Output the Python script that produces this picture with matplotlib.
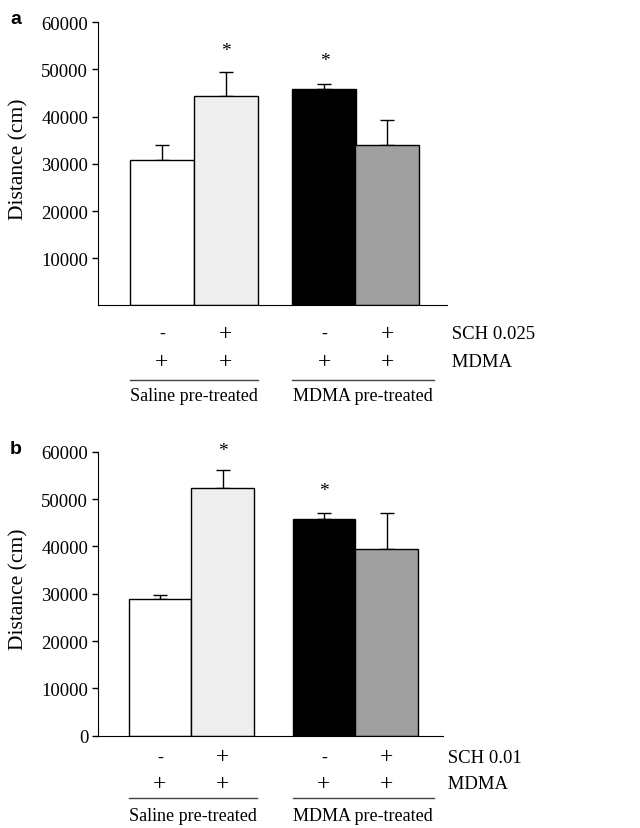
import matplotlib
matplotlib.use("Agg")
import matplotlib.pyplot as plt

# data (cm)
sch_a = ["-", "+", "-", "+"]
sch_b = ["-", "+", "-", "+"]
mdma_row = ["+", "+", "+", "+"]
groups = ["Saline pre-treated", "MDMA pre-treated"]

dist_a = [30800, 44400, 45900, 34000]
err_a = [3200, 5000, 1100, 5400]
star_a = [None, 54000, 52000, None]

dist_b = [28800, 52400, 45700, 39500]
err_b = [900, 3800, 1400, 7600]
star_b = [None, 60200, 51800, None]

bar_colors = ["white", "#eeeeee", "black", "#a0a0a0"]

plt.rcParams["font.family"] = ["Liberation Serif", "DejaVu Serif"]
plt.rcParams["font.size"] = 13


def sign_size(s):
    return 17 if s == "+" else 13


def draw_panel(fig, rect, vals, errs, stars, sch_signs, sch_label, letter,
               xpos, xlim, yticks, rows_y, line_segs):
    ax = fig.add_axes(rect)
    ax.bar(xpos, vals, width=1.0, color=bar_colors, edgecolor="black",
           linewidth=1.0, zorder=2)
    ax.errorbar(xpos, vals, yerr=[[0] * len(errs), errs], fmt="none",
                ecolor="black", elinewidth=1.0, capsize=5, capthick=1.0, zorder=1)
    for x, s in zip(xpos, stars):
        if s is not None:
            ax.text(x, s, "*", ha="center", va="center", fontsize=14)

    ax.set_xlim(*xlim)
    ax.set_ylim(0, 60000)
    ax.set_yticks(yticks)
    ax.set_xticks([])
    ax.spines["top"].set_visible(False)
    ax.spines["right"].set_visible(False)
    ax.tick_params(axis="y", direction="out", length=4, width=1, pad=3,
                   labelsize=13.5)
    ax.set_ylabel("Distance (cm)", fontsize=15.5)
    ax.yaxis.set_label_coords(-0.2, 0.52)

    tr = ax.get_xaxis_transform()
    for x, s1, s2 in zip(xpos, sch_signs, mdma_row):
        ax.text(x, rows_y[0], s1, ha="center", va="center", transform=tr,
                fontsize=sign_size(s1), clip_on=False)
        ax.text(x, rows_y[1], s2, ha="center", va="center", transform=tr,
                fontsize=sign_size(s2), clip_on=False)
    ax.text(1.0, rows_y[0], " " + sch_label, transform=ax.transAxes,
            ha="left", va="center", fontsize=13.5)
    ax.text(1.0, rows_y[1], " MDMA", transform=ax.transAxes,
            ha="left", va="center", fontsize=13.5)

    for (x0, x1), g in zip(line_segs, groups):
        ax.plot([x0, x1], [rows_y[2], rows_y[2]], color="#444444", lw=1.0,
                transform=tr, clip_on=False)
        ax.text((x0 + x1) / 2, rows_y[3], g, ha="center", va="center",
                transform=tr, fontsize=13, clip_on=False)

    fig.text(rect[0] - 0.128, rect[1] + rect[3] + 0.004, letter,
             family=["Liberation Sans", "DejaVu Sans"], fontweight="bold",
             fontsize=14, ha="center", va="center")
    return ax


fig = plt.figure(figsize=(6.4, 8.29), dpi=100)

draw_panel(fig, [0.153, 0.6303, 0.545, 0.3416], dist_a, err_a, star_a,
           sch_a, "SCH 0.025", "a",
           [0, 1, 2.54, 3.52], (-1.0, 4.45),
           [10000, 20000, 30000, 40000, 50000, 60000],
           [-0.100, -0.198, -0.263, -0.318],
           [(-0.5, 1.5), (2.04, 4.25)])

draw_panel(fig, [0.153, 0.1113, 0.539, 0.3426], dist_b, err_b, star_b,
           sch_b, "SCH 0.01", "b",
           [0, 1, 2.62, 3.62], (-0.99, 4.52),
           [0, 10000, 20000, 30000, 40000, 50000, 60000],
           [-0.075, -0.168, -0.220, -0.282],
           [(-0.5, 1.55), (2.12, 4.38)])

fig.savefig("out.png", dpi=100)
